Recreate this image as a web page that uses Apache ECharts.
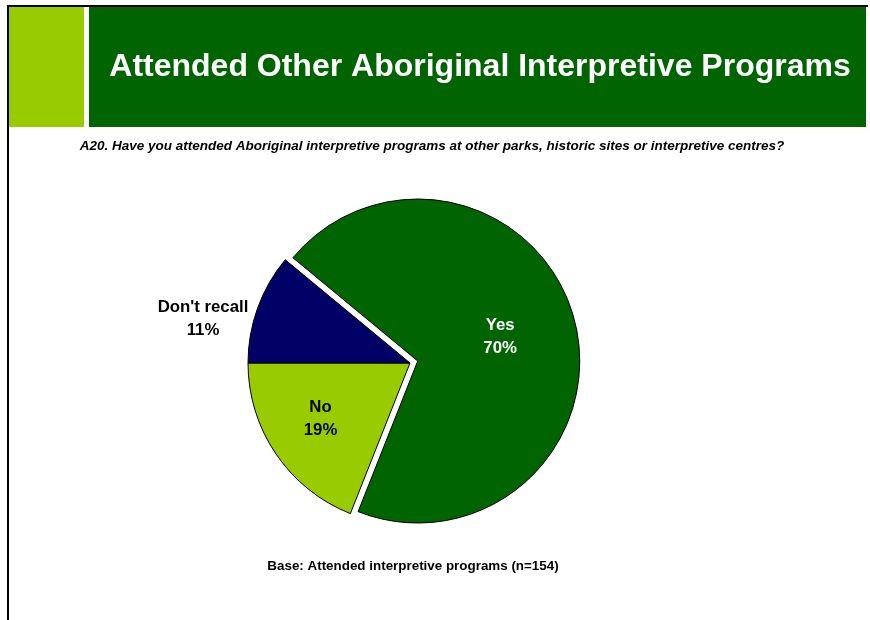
<!DOCTYPE html>
<html>
<head>
<meta charset="utf-8">
<script src="https://cdn.jsdelivr.net/npm/echarts@6/dist/echarts.min.js"></script>
<style>
  html, body { margin: 0; padding: 0; background: #fff; }
  #chart { width: 870px; height: 620px; }
</style>
</head>
<body>
<div id="chart"></div>
<script>
// Survey responses (percent of respondents)
const categories = ['Yes', 'No', "Don't recall"];
const values = [70, 19, 11];
const sliceColors = ['#006400', '#99CC00', '#000066'];
const labelColors = ['#ffffff', '#000000', '#000000'];

const titleText = 'Attended Other Aboriginal Interpretive Programs';
const questionText = 'A20. Have you attended Aboriginal interpretive programs at other parks, historic sites or interpretive centres?';
const baseText = 'Base: Attended interpretive programs (n=154)';

const chart = echarts.init(document.getElementById('chart'), null, { renderer: 'canvas' });

const FONT = '"Liberation Sans", Arial, Helvetica, sans-serif';

chart.setOption({
  animation: false,
  backgroundColor: '#ffffff',
  graphic: [
    // frame lines
    { type: 'rect', shape: { x: 7, y: 5, width: 861, height: 2 }, style: { fill: '#000' } },
    { type: 'rect', shape: { x: 7, y: 5, width: 2, height: 615 }, style: { fill: '#000' } },
    // header blocks
    { type: 'rect', shape: { x: 9, y: 7, width: 75, height: 120 }, style: { fill: '#99CC00' } },
    { type: 'rect', shape: { x: 89, y: 7, width: 777, height: 120 }, style: { fill: '#006400' } },
    {
      type: 'text', x: 480, y: 67,
      style: {
        text: titleText, fill: '#ffffff', font: 'bold 32px ' + FONT,
        align: 'center', verticalAlign: 'middle'
      }
    },
    {
      type: 'text', x: 432, y: 146,
      style: {
        text: questionText, fill: '#000000', font: 'italic bold 13.5px ' + FONT,
        align: 'center', verticalAlign: 'middle'
      }
    },
    {
      type: 'text', x: 413, y: 566,
      style: {
        text: baseText, fill: '#000000', font: 'bold 13.4px ' + FONT,
        align: 'center', verticalAlign: 'middle'
      }
    }
  ],
  series: [{
    type: 'pie',
    center: [410, 363],
    radius: 162,
    startAngle: 140.4,
    clockwise: true,
    selectedMode: 'single',
    selectedOffset: 8,
    avoidLabelOverlap: false,
    emphasis: { disabled: true },
    itemStyle: { borderColor: '#000000', borderWidth: 1 },
    label: {
      show: true,
      position: 'inside',
      formatter: p => p.name + '\n' + p.value + '%',
      fontFamily: FONT,
      fontWeight: 'bold',
      fontSize: 16.8,
      lineHeight: 23,
      align: 'center'
    },
    labelLine: { show: false },
    labelLayout: function (params) {
      if (params.dataIndex === 1) {
        return { dx: -20, dy: 9 };
      }
      if (params.dataIndex === 2) {
        return { x: 203, y: 319, align: 'center', verticalAlign: 'middle' };
      }
      return { dx: 1, dy: -3 };
    },
    data: categories.map((name, i) => ({
      name: name,
      value: values[i],
      selected: i === 0,
      itemStyle: { color: sliceColors[i] },
      label: { color: labelColors[i] }
    }))
  }]
});
</script>
</body>
</html>
